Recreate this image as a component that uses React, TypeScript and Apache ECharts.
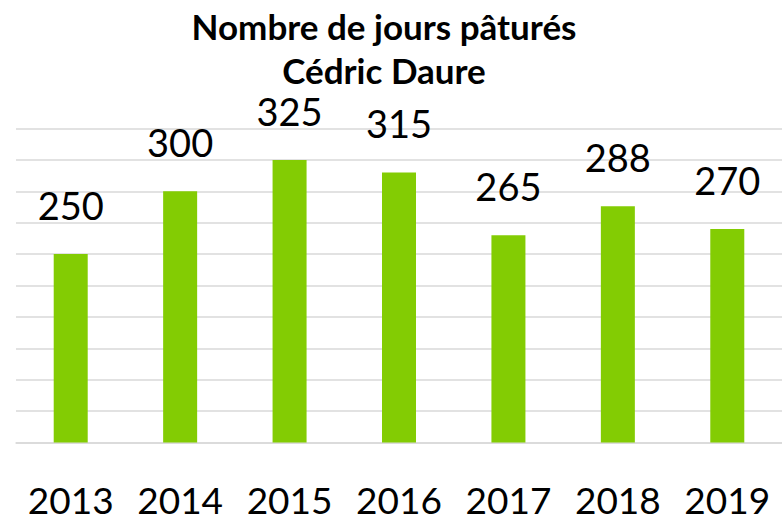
import React, { useEffect, useRef } from "react";
import * as echarts from "echarts";

const titleLines = ["Nombre de jours pâturés", "Cédric Daure"];
const years = ["2013", "2014", "2015", "2016", "2017", "2018", "2019"];
const days = [250, 300, 325, 315, 265, 288, 270];
const axisMin = 100;
const axisMax = 350;
const axisStep = 25;

const FONT = "Lato, 'Open Sans', sans-serif";

export default function App() {
  const ref = useRef<HTMLDivElement>(null);
  useEffect(() => {
    document.body.style.margin = "0";
    if (!ref.current) return;
    const chart = echarts.init(ref.current, undefined, { renderer: "svg" });
    chart.setOption({
      animation: false,
      backgroundColor: "#ffffff",
      title: {
        text: titleLines.join("\n"),
        left: 384,
        textAlign: "center",
        top: 4,
        padding: 0,
        textStyle: {
          fontFamily: FONT,
          fontWeight: "bold",
          fontSize: 35,
          lineHeight: 44,
          color: "#000000",
        },
      },
      grid: { left: 16, right: -4, top: 128.5, bottom: 79.5, containLabel: false },
      xAxis: {
        type: "category",
        data: years,
        axisLine: { show: true, lineStyle: { color: "#D9D9D9", width: 1.5 } },
        axisTick: { show: false },
        axisLabel: {
          interval: 0,
          fontFamily: FONT,
          fontSize: 37,
          color: "#000000",
          margin: 40,
          lineHeight: 34,
        },
      },
      yAxis: {
        type: "value",
        min: axisMin,
        max: axisMax,
        interval: axisStep,
        axisLabel: { show: false },
        axisLine: { show: false },
        axisTick: { show: false },
        splitLine: { lineStyle: { color: "#D9D9D9", width: 1.5 } },
      },
      series: [
        {
          type: "bar",
          data: days,
          barWidth: 34,
          itemStyle: { color: "#83CC03" },
          label: {
            show: true,
            position: "top",
            distance: 30,
            fontFamily: FONT,
            fontSize: 38,
            color: "#000000",
          },
        },
      ],
    });
    return () => chart.dispose();
  }, []);
  return <div ref={ref} style={{ width: 782, height: 522 }} />;
}
